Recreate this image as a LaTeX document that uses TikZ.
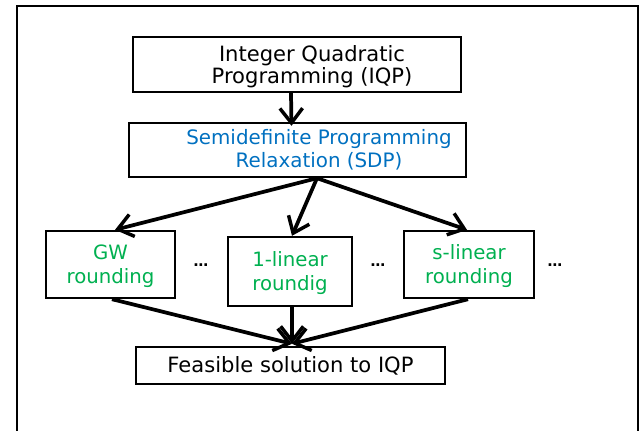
\documentclass[tikz,border=0pt]{standalone}
\usepackage{fontspec}
\setmainfont{DejaVu Sans}
\usetikzlibrary{arrows.meta}
\definecolor{sdpblue}{HTML}{0070C0}
\definecolor{roundgreen}{HTML}{00B050}
\tikzset{
  box/.style={draw, line width=1.8pt, rectangle, inner sep=0pt},
  maintext/.style={align=center, inner sep=0pt, font=\fontsize{15.8}{16.5}\selectfont},
  sdptext/.style={align=center, inner sep=0pt, text=sdpblue, font=\fontsize{14.9}{17}\selectfont},
  roundtext/.style={align=center, inner sep=0pt, text=roundgreen, font=\fontsize{14.8}{18}\selectfont},
  flow/.style={line width=2.8pt, -{Straight Barb[length=11pt,width=17pt,line width=2.6pt]}},
  gap/.style={inner sep=0pt, font=\fontsize{11}{11}\selectfont\bfseries}
}
\begin{document}
\begin{tikzpicture}[x=0.75pt,y=-0.75pt]
\useasboundingbox (0,0) rectangle (643,431);
% outer frame, open at the bottom
\draw[line width=1.6pt] (17,431) -- (17,6) -- (638,6) -- (638,431);

% boxes
\node[box, minimum width=246pt,   minimum height=41.25pt] (iqp)  at (297,64.5) {};
\node[box, minimum width=252.75pt, minimum height=40.5pt] (sdp)  at (297.5,150) {};
\node[box, minimum width=96.75pt, minimum height=50.25pt] (gw)   at (110.5,264.5) {};
\node[box, minimum width=93pt,    minimum height=51.75pt] (lin)  at (290,271.5) {};
\node[box, minimum width=97.5pt,  minimum height=50.25pt] (slin) at (469,264.5) {};
\node[box, minimum width=231.75pt, minimum height=27.75pt] (feas) at (290.5,365.5) {};

% texts
\node[maintext] (iqpT) at (312,67) {Integer Quadratic\\Programming (IQP)};
\node[sdptext] (sdpT) at (319,150) {Semidefinite Programming\\Relaxation (SDP)};
\node[roundtext] (gwT) at (110.5,266.5) {GW\\rounding};
\node[roundtext] (linT) at (290,273) {1-linear\\roundig};
\node[roundtext] (slinT) at (469,266.5) {s-linear\\rounding};
\node[maintext] (feasT) at (290.5,365.5) {Feasible solution to IQP};

% gaps between the rounding schemes
\node[gap] (d1) at (201,265) {…};
\node[gap] (d2) at (378,265) {…};
\node[gap] (d3) at (555,265) {…};

% connectors
\draw[flow] ([xshift=-4.5pt]iqp.south) -- ([xshift=-4.5pt,yshift=-3pt]sdp.north);
\draw[flow] ([xshift=14.6pt]sdp.south) -- ([xshift=3.4pt]gw.north);
\draw[flow] ([xshift=14.6pt]sdp.south) -- ([xshift=1.5pt]lin.north);
\draw[flow] ([xshift=14.6pt]sdp.south) -- ([xshift=-1.5pt]slin.north);
\draw[flow] ([xshift=1.1pt]gw.south) -- ([xshift=1.1pt,yshift=1.5pt]feas.north);
\draw[flow] ([xshift=1.5pt]lin.south) -- ([xshift=1.1pt,yshift=1.5pt]feas.north);
\draw[flow] ([xshift=-0.75pt]slin.south) -- ([xshift=1.1pt,yshift=1.5pt]feas.north);
\end{tikzpicture}
\end{document}
